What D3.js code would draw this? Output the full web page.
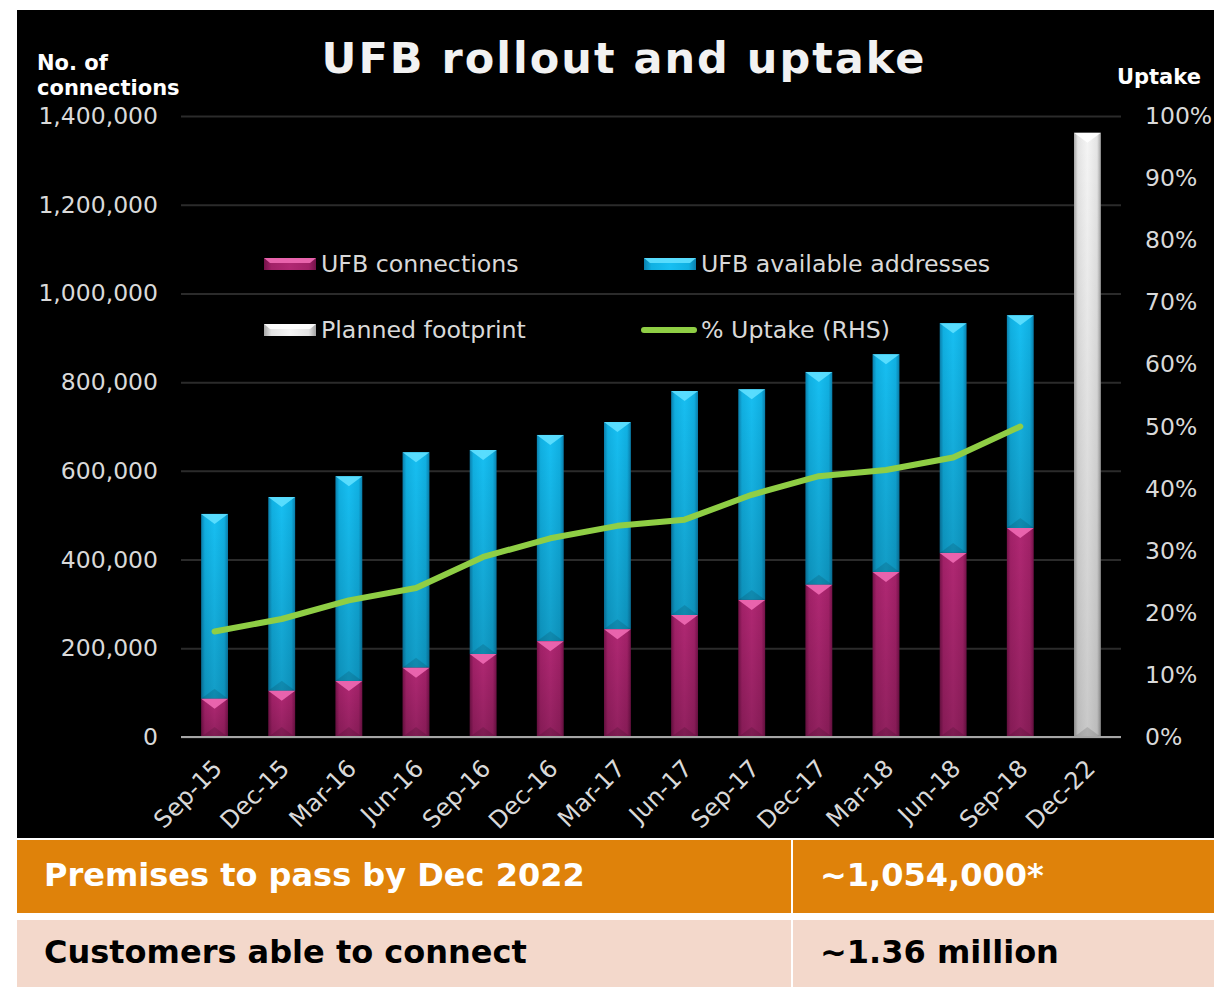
<!DOCTYPE html>
<html>
<head>
<meta charset="utf-8">
<script src="https://cdn.jsdelivr.net/npm/d3@7"></script>
<style>
  body { margin: 0; background: #fff; }
  text { font-family: "DejaVu Sans", Verdana, sans-serif; }
</style>
</head>
<body>
<div id="chart"></div>
<script>

// ----------------------- DATA

var categories = ["Sep-15", "Dec-15", "Mar-16", "Jun-16", "Sep-16", "Dec-16", "Mar-17",
    "Jun-17", "Sep-17", "Dec-17", "Mar-18", "Jun-18", "Sep-18", "Dec-22"];

var connections = [86000, 104000, 126000, 156000, 187000, 216000, 243000,
    275000, 309000, 343000, 372000, 415000, 471000, null];

var available = [503000, 541000, 588000, 642000, 647000, 681000, 710000,
    780000, 784000, 823000, 863000, 933000, 951000, null];

var planned = [null, null, null, null, null, null, null,
    null, null, null, null, null, null, 1362000];

var uptake = [17, 19, 22, 24, 29, 32, 34, 35, 39, 42, 43, 45, 50, null];

var leftTicks = [0, 200000, 400000, 600000, 800000, 1000000, 1200000, 1400000];
var rightTicks = [0, 10, 20, 30, 40, 50, 60, 70, 80, 90, 100];

var tableRows = [
    ["Premises to pass by Dec 2022", "~1,054,000*"],
    ["Customers able to connect", "~1.36 million"]
];

// ----------------------- SETUP

var W = 1214, H = 987;
var plot = { left: 181, right: 1121, top: 116, bottom: 737 };

var svg = d3.select("#chart").append("svg")
    .attr("width", W)
    .attr("height", H);

svg.append("rect").attr("width", W).attr("height", H).attr("fill", "#fff");
svg.append("rect")
    .attr("x", 17).attr("y", 10)
    .attr("width", W - 17).attr("height", 828)
    .attr("fill", "#000");

var defs = svg.append("defs");

function hGrad(id, stops) {
    var g = defs.append("linearGradient").attr("id", id)
        .attr("x1", "0").attr("x2", "1").attr("y1", "0").attr("y2", "0");
    stops.forEach(function (s) {
        g.append("stop").attr("offset", s[0]).attr("stop-color", s[1]);
    });
}
hGrad("gPink", [["0%", "#741249"], ["14%", "#a22168"], ["50%", "#b02873"], ["86%", "#a22168"], ["100%", "#741249"]]);
hGrad("gBlue", [["0%", "#0a7fac"], ["14%", "#10b0e2"], ["50%", "#17bff2"], ["86%", "#10b0e2"], ["100%", "#0a7fac"]]);
hGrad("gWhite", [["0%", "#a6a6a6"], ["14%", "#e4e4e4"], ["50%", "#f5f5f5"], ["86%", "#e4e4e4"], ["100%", "#a0a0a0"]]);

var shade = defs.append("linearGradient").attr("id", "gShade")
    .attr("x1", "0").attr("x2", "0").attr("y1", "0").attr("y2", "1");
shade.append("stop").attr("offset", "0%").attr("stop-color", "#000").attr("stop-opacity", 0);
shade.append("stop").attr("offset", "100%").attr("stop-color", "#000").attr("stop-opacity", 0.18);

// scales
var x = d3.scaleBand().domain(categories)
    .range([plot.left, plot.right])
    .paddingInner(0.6).paddingOuter(0.3);
var y = d3.scaleLinear().domain([0, 1400000]).range([plot.bottom, plot.top]);
var y2 = d3.scaleLinear().domain([0, 100]).range([plot.bottom, plot.top]);

// gridlines
var grid = svg.append("g")
    .attr("transform", "translate(" + plot.left + ",0)")
    .call(d3.axisLeft(y).tickValues(leftTicks).tickSize(-(plot.right - plot.left)).tickFormat(""));
grid.select(".domain").remove();
grid.selectAll("line").attr("stroke", "#2b2b2b").attr("stroke-width", 2);

// left axis labels
var yAxis = svg.append("g")
    .attr("transform", "translate(" + plot.left + ",0)")
    .call(d3.axisLeft(y).tickValues(leftTicks).tickSize(0).tickPadding(23)
        .tickFormat(function (d) { return d3.format(",")(d); }));
yAxis.select(".domain").remove();
yAxis.selectAll("text")
    .attr("fill", "#d9d9d9")
    .style("font-size", "23.5px")
    .style("font-family", "'DejaVu Sans', Verdana, sans-serif");

// right axis labels
var y2Axis = svg.append("g")
    .attr("transform", "translate(" + plot.right + ",0)")
    .call(d3.axisRight(y2).tickValues(rightTicks).tickSize(0).tickPadding(24)
        .tickFormat(function (d) { return d + "%"; }));
y2Axis.select(".domain").remove();
y2Axis.selectAll("text")
    .attr("fill", "#d9d9d9")
    .style("font-size", "23.5px")
    .style("font-family", "'DejaVu Sans', Verdana, sans-serif");

// ----------------------- BARS

var bw = x.bandwidth();
var tri = 10;

function segment(g, x0, yTop, yBot, fill, topColor) {
    if (yBot - yTop <= 0) return;
    g.append("rect")
        .attr("x", x0).attr("y", yTop)
        .attr("width", bw).attr("height", yBot - yTop)
        .attr("fill", "url(#" + fill + ")");
    g.append("rect")
        .attr("x", x0).attr("y", yTop)
        .attr("width", bw).attr("height", yBot - yTop)
        .attr("fill", "url(#gShade)");
    g.append("path")
        .attr("d", "M" + x0 + "," + yTop + "L" + (x0 + bw) + "," + yTop +
            "L" + (x0 + bw / 2) + "," + (yTop + tri) + "Z")
        .attr("fill", topColor).attr("opacity", 0.9);
    g.append("path")
        .attr("d", "M" + x0 + "," + yBot + "L" + (x0 + bw) + "," + yBot +
            "L" + (x0 + bw / 2) + "," + (yBot - tri) + "Z")
        .attr("fill", "#000").attr("opacity", 0.12);
}

var bars = svg.append("g");
categories.forEach(function (c, i) {
    var x0 = x(c);
    if (connections[i] != null) {
        segment(bars, x0, y(available[i]), y(connections[i]), "gBlue", "#5fe0ff");
        segment(bars, x0, y(connections[i]), y(0), "gPink", "#f06ab4");
    }
    if (planned[i] != null) {
        segment(bars, x0, y(planned[i]), y(0), "gWhite", "#ffffff");
    }
});

// baseline
svg.append("line")
    .attr("x1", plot.left).attr("x2", plot.right)
    .attr("y1", y(0)).attr("y2", y(0))
    .attr("stroke", "#a6a6a6").attr("stroke-width", 2);

// uptake line
var lineData = categories.map(function (c, i) { return { c: c, v: uptake[i] }; })
    .filter(function (d) { return d.v != null; });
var line = d3.line()
    .x(function (d) { return x(d.c) + bw / 2; })
    .y(function (d) { return y2(d.v); });
svg.append("path")
    .datum(lineData)
    .attr("d", line)
    .attr("fill", "none")
    .attr("stroke", "#8fce45")
    .attr("stroke-width", 6)
    .attr("stroke-linecap", "round")
    .attr("stroke-linejoin", "round");

// x labels
svg.append("g").selectAll("text")
    .data(categories)
    .enter().append("text")
    .attr("transform", function (d) {
        return "translate(" + (x(d) + bw / 2 + 9) + "," + 770 + ") rotate(-45)";
    })
    .attr("text-anchor", "end")
    .attr("fill", "#d9d9d9")
    .style("font-size", "24px")
    .text(function (d) { return d; });

// ----------------------- TITLES

svg.append("text")
    .attr("x", 624).attr("y", 73)
    .attr("text-anchor", "middle")
    .attr("fill", "#f2f2f2")
    .style("font-size", "43px").style("font-weight", "bold")
    .style("letter-spacing", "2px")
    .text("UFB rollout and uptake");

svg.append("text").attr("x", 37).attr("y", 70)
    .attr("fill", "#fff").style("font-size", "21px").style("font-weight", "bold")
    .text("No. of");
svg.append("text").attr("x", 37).attr("y", 95)
    .attr("fill", "#fff").style("font-size", "21px").style("font-weight", "bold")
    .text("connections");
svg.append("text").attr("x", 1117).attr("y", 84)
    .attr("fill", "#fff").style("font-size", "21px").style("font-weight", "bold")
    .text("Uptake");

// ----------------------- LEGEND

var legendItems = [
    { label: "UFB connections", fill: "gPink", top: "#f06ab4", x: 264, y: 264 },
    { label: "UFB available addresses", fill: "gBlue", top: "#5fe0ff", x: 644, y: 264 },
    { label: "Planned footprint", fill: "gWhite", top: "#ffffff", x: 264, y: 330 },
    { label: "% Uptake (RHS)", line: true, x: 644, y: 330 }
];
var legend = svg.append("g");
legendItems.forEach(function (it) {
    if (it.line) {
        legend.append("line")
            .attr("x1", it.x).attr("x2", it.x + 50)
            .attr("y1", it.y).attr("y2", it.y)
            .attr("stroke", "#8fce45").attr("stroke-width", 6)
            .attr("stroke-linecap", "round");
    } else {
        legend.append("rect")
            .attr("x", it.x).attr("y", it.y - 6)
            .attr("width", 52).attr("height", 12)
            .attr("fill", "url(#" + it.fill + ")");
        legend.append("path")
            .attr("d", "M" + it.x + "," + (it.y - 6) + "L" + (it.x + 52) + "," + (it.y - 6) +
                "L" + (it.x + 46) + "," + (it.y - 1) + "L" + (it.x + 6) + "," + (it.y - 1) + "Z")
            .attr("fill", it.top).attr("opacity", 0.9);
    }
    legend.append("text")
        .attr("x", it.x + 57).attr("y", it.y + 8)
        .attr("fill", "#d9d9d9")
        .style("font-size", "23.7px")
        .text(it.label);
});

// ----------------------- TABLE

var rowStyle = [
    { y: 840, h: 73, fill: "#df820a", text: "#ffffff" },
    { y: 920, h: 67, fill: "#f3d8cb", text: "#000000" }
];
tableRows.forEach(function (r, i) {
    var s = rowStyle[i];
    svg.append("rect")
        .attr("x", 17).attr("y", s.y)
        .attr("width", W - 17).attr("height", s.h)
        .attr("fill", s.fill);
    svg.append("line")
        .attr("x1", 792).attr("x2", 792)
        .attr("y1", s.y).attr("y2", s.y + s.h)
        .attr("stroke", "#fff").attr("stroke-width", 2);
    svg.append("text")
        .attr("x", 44).attr("y", s.y + s.h / 2 + 9)
        .attr("fill", s.text)
        .style("font-size", "32px").style("font-weight", "bold")
        .text(r[0]);
    svg.append("text")
        .attr("x", 820).attr("y", s.y + s.h / 2 + 9)
        .attr("fill", s.text)
        .style("font-size", "32px").style("font-weight", "bold")
        .text(r[1]);
});

</script>
</body>
</html>
